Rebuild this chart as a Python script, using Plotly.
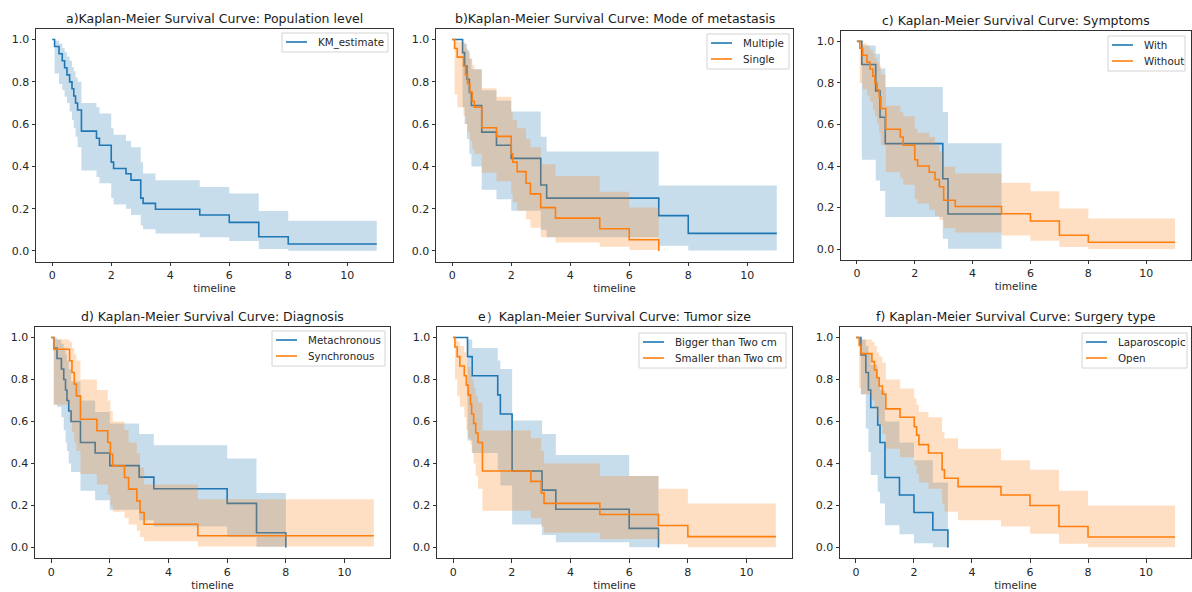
import plotly.graph_objects as go

# ---------------- data ----------------
XTICKS = [0, 2, 4, 6, 8, 10]
YTICKS = [0.0, 0.2, 0.4, 0.6, 0.8, 1.0]
YTICK_LABELS = ["0.0", "0.2", "0.4", "0.6", "0.8", "1.0"]

# a) Population level
A_T = [0, 0.08, 0.23, 0.34, 0.42, 0.5, 0.59, 0.67, 0.73, 0.79, 0.86, 0.99, 1.5, 1.6, 2.0, 2.08, 2.5, 2.67, 3.0, 3.08, 3.5, 5.0, 6.0, 7.0, 8.0, 11.0]
A_S = [1.0, 0.967, 0.933, 0.9, 0.867, 0.833, 0.8, 0.767, 0.733, 0.7, 0.667, 0.567, 0.533, 0.5, 0.42, 0.39, 0.365, 0.335, 0.25, 0.225, 0.197, 0.17, 0.135, 0.067, 0.033, 0.033]
A_LO = [1.0, 0.84, 0.79, 0.76, 0.73, 0.70, 0.66, 0.62, 0.58, 0.54, 0.49, 0.38, 0.35, 0.32, 0.25, 0.22, 0.20, 0.17, 0.12, 0.102, 0.083, 0.065, 0.047, 0.009, 0.001, 0.001]
A_HI = [1.0, 0.995, 0.98, 0.96, 0.94, 0.92, 0.90, 0.87, 0.85, 0.82, 0.80, 0.70, 0.68, 0.65, 0.58, 0.55, 0.52, 0.49, 0.42, 0.366, 0.335, 0.303, 0.272, 0.189, 0.143, 0.143]

# b) Mode of metastasis
B1_T = [0, 0.35, 0.42, 0.5, 0.58, 0.65, 1.0, 1.5, 2.0, 3.0, 3.2, 7.0, 8.0, 11.0]
B1_S = [1.0, 0.938, 0.875, 0.812, 0.75, 0.688, 0.562, 0.5, 0.438, 0.312, 0.25, 0.167, 0.083, 0.083]
B1_LO = [1.0, 0.68, 0.6, 0.53, 0.46, 0.4, 0.29, 0.245, 0.19, 0.1, 0.065, 0.025, 0.002, 0.002]
B1_HI = [1.0, 0.99, 0.98, 0.95, 0.91, 0.86, 0.76, 0.71, 0.66, 0.54, 0.47, 0.31, 0.31, 0.31]
B2_T = [0, 0.08, 0.17, 0.38, 0.45, 0.52, 0.6, 0.68, 0.75, 1.0, 1.5, 2.0, 2.05, 2.2, 2.5, 2.65, 3.0, 3.5, 5.0, 6.0, 7.0]
B2_S = [1.0, 0.958, 0.917, 0.875, 0.833, 0.792, 0.75, 0.708, 0.68, 0.583, 0.542, 0.46, 0.42, 0.375, 0.32, 0.27, 0.205, 0.155, 0.105, 0.053, 0.0]
B2_LO = [1.0, 0.74, 0.68, 0.64, 0.6, 0.56, 0.52, 0.48, 0.46, 0.37, 0.33, 0.27, 0.23, 0.19, 0.15, 0.11, 0.065, 0.04, 0.02, 0.005, 0.0]
B2_HI = [1.0, 1.0, 0.99, 0.98, 0.96, 0.94, 0.91, 0.88, 0.86, 0.77, 0.73, 0.66, 0.62, 0.58, 0.53, 0.49, 0.41, 0.355, 0.28, 0.205, 0.0]

# c) Symptoms
C1_T = [0, 0.17, 0.65, 0.8, 0.98, 2.97, 3.15, 5.0]
C1_S = [1.0, 0.889, 0.762, 0.635, 0.508, 0.339, 0.169, 0.169]
C1_LO = [1.0, 0.43, 0.33, 0.28, 0.155, 0.05, 0.002, 0.002]
C1_HI = [1.0, 0.98, 0.94, 0.87, 0.78, 0.66, 0.51, 0.51]
C2_T = [0, 0.1, 0.2, 0.35, 0.45, 0.55, 0.62, 0.7, 0.77, 0.83, 1.0, 1.5, 1.6, 2.0, 2.1, 2.5, 2.7, 2.85, 3.0, 3.4, 5.0, 6.0, 7.0, 8.0, 11.0]
C2_S = [1.0, 0.967, 0.933, 0.9, 0.867, 0.833, 0.8, 0.767, 0.733, 0.677, 0.577, 0.54, 0.5, 0.43, 0.4, 0.37, 0.335, 0.3, 0.235, 0.205, 0.17, 0.135, 0.067, 0.033, 0.033]
C2_LO = [1.0, 0.8, 0.77, 0.74, 0.71, 0.67, 0.64, 0.6, 0.56, 0.5, 0.37, 0.34, 0.31, 0.24, 0.22, 0.19, 0.16, 0.14, 0.1, 0.08, 0.065, 0.04, 0.01, 0.001, 0.001]
C2_HI = [1.0, 1.0, 0.99, 0.98, 0.96, 0.94, 0.92, 0.9, 0.88, 0.84, 0.69, 0.66, 0.64, 0.58, 0.56, 0.54, 0.5, 0.47, 0.396, 0.364, 0.319, 0.279, 0.195, 0.147, 0.147]

# d) Diagnosis
D1_T = [0, 0.09, 0.2, 0.35, 0.43, 0.49, 0.54, 0.6, 0.68, 1.0, 1.5, 2.0, 3.0, 3.5, 6.0, 7.0, 8.0]
D1_S = [1.0, 0.95, 0.9, 0.85, 0.8, 0.75, 0.7, 0.65, 0.6, 0.5, 0.45, 0.39, 0.335, 0.28, 0.21, 0.07, 0.0]
D1_LO = [1.0, 0.68, 0.67, 0.62, 0.56, 0.5, 0.46, 0.4, 0.36, 0.27, 0.225, 0.18, 0.13, 0.1, 0.05, 0.003, 0.0]
D1_HI = [1.0, 1.0, 0.99, 0.97, 0.95, 0.92, 0.89, 0.85, 0.79, 0.70, 0.645, 0.59, 0.54, 0.487, 0.424, 0.26, 0.0]
D2_T = [0, 0.09, 0.63, 0.71, 0.79, 0.86, 1.0, 1.56, 1.93, 2.02, 2.1, 2.5, 2.64, 2.92, 3.03, 3.17, 5.0, 11.0]
D2_S = [1.0, 0.944, 0.889, 0.833, 0.778, 0.722, 0.611, 0.556, 0.5, 0.444, 0.389, 0.333, 0.278, 0.222, 0.167, 0.111, 0.056, 0.056]
D2_LO = [1.0, 0.68, 0.6, 0.55, 0.5, 0.46, 0.35, 0.3, 0.25, 0.2, 0.17, 0.14, 0.11, 0.08, 0.05, 0.03, 0.005, 0.005]
D2_HI = [1.0, 0.99, 0.98, 0.95, 0.92, 0.89, 0.8, 0.75, 0.7, 0.65, 0.6, 0.56, 0.5, 0.45, 0.38, 0.3, 0.23, 0.23]

# e) Tumor size
E1_T = [0, 0.49, 0.65, 1.52, 1.61, 2.01, 3.03, 3.5, 6.0, 7.0]
E1_S = [1.0, 0.909, 0.818, 0.727, 0.636, 0.364, 0.273, 0.182, 0.091, 0.0]
E1_LO = [1.0, 0.51, 0.45, 0.37, 0.295, 0.11, 0.06, 0.025, 0.001, 0.0]
E1_HI = [1.0, 0.99, 0.95, 0.89, 0.85, 0.605, 0.54, 0.44, 0.34, 0.0]
E2_T = [0, 0.06, 0.14, 0.23, 0.38, 0.45, 0.51, 0.59, 0.63, 0.7, 0.77, 0.85, 1.0, 2.65, 3.0, 3.1, 5.0, 7.0, 8.0, 11.0]
E2_S = [1.0, 0.955, 0.909, 0.864, 0.818, 0.773, 0.727, 0.682, 0.636, 0.591, 0.545, 0.5, 0.364, 0.315, 0.26, 0.21, 0.157, 0.105, 0.052, 0.052]
E2_LO = [1.0, 0.8, 0.72, 0.67, 0.62, 0.56, 0.52, 0.49, 0.45, 0.4, 0.34, 0.28, 0.175, 0.14, 0.1, 0.07, 0.04, 0.015, 0.001, 0.001]
E2_HI = [1.0, 0.99, 0.98, 0.96, 0.93, 0.9, 0.86, 0.83, 0.8, 0.76, 0.72, 0.69, 0.557, 0.52, 0.46, 0.4, 0.34, 0.28, 0.21, 0.21]

# f) Surgery type
F1_T = [0, 0.17, 0.34, 0.43, 0.51, 0.75, 0.83, 1.0, 1.5, 2.0, 2.65, 3.17]
F1_S = [1.0, 0.917, 0.833, 0.75, 0.667, 0.583, 0.5, 0.333, 0.25, 0.167, 0.083, 0.0]
F1_LO = [1.0, 0.73, 0.567, 0.455, 0.345, 0.265, 0.21, 0.106, 0.063, 0.02, 0.001, 0.0]
F1_HI = [1.0, 0.99, 0.96, 0.92, 0.87, 0.81, 0.75, 0.6, 0.5, 0.415, 0.31, 0.0]
F2_T = [0, 0.11, 0.17, 0.55, 0.64, 0.72, 0.8, 0.91, 1.03, 1.52, 2.01, 2.09, 2.17, 2.5, 2.97, 3.05, 3.52, 5.0, 6.0, 7.0, 8.0, 11.0]
F2_S = [1.0, 0.962, 0.923, 0.885, 0.846, 0.808, 0.769, 0.731, 0.66, 0.62, 0.575, 0.535, 0.49, 0.45, 0.37, 0.33, 0.29, 0.25, 0.2, 0.1, 0.05, 0.05]
F2_LO = [1.0, 0.76, 0.73, 0.7, 0.66, 0.62, 0.58, 0.54, 0.47, 0.43, 0.39, 0.35, 0.31, 0.28, 0.21, 0.17, 0.13, 0.1, 0.065, 0.018, 0.001, 0.001]
F2_HI = [1.0, 1.0, 0.99, 0.98, 0.96, 0.93, 0.91, 0.88, 0.8, 0.757, 0.71, 0.68, 0.645, 0.62, 0.55, 0.52, 0.47, 0.415, 0.37, 0.27, 0.2, 0.2]

# ---------------- styling / layout ----------------
W, H = 1192, 592
LINE_COLORS = ["#1f77b4", "#ff7f0e"]
FILL_COLORS = ["rgba(31,119,180,0.25)", "rgba(255,127,14,0.25)"]
FONT = "DejaVu Sans"
TEXT_COLOR = "#262626"

# legend boxes: (left, right, top) in pixels
panels = [
    dict(title="a)Kaplan-Meier Survival Curve: Population level",
         groups=[("KM_estimate", A_T, A_S, A_LO, A_HI)],
         xpx=(36, 393), ypx=(29, 261.5), leg=(282, 388, 33)),
    dict(title="b)Kaplan-Meier Survival Curve: Mode of metastasis",
         groups=[("Multiple", B1_T, B1_S, B1_LO, B1_HI), ("Single", B2_T, B2_S, B2_LO, B2_HI)],
         xpx=(436, 793), ypx=(29, 261.5), leg=(707, 789, 34)),
    dict(title="c) Kaplan-Meier Survival Curve: Symptoms",
         groups=[("With", C1_T, C1_S, C1_LO, C1_HI), ("Without", C2_T, C2_S, C2_LO, C2_HI)],
         xpx=(841, 1191), ypx=(31, 259.5), leg=(1108, 1185, 36)),
    dict(title="d) Kaplan-Meier Survival Curve: Diagnosis",
         groups=[("Metachronous", D1_T, D1_S, D1_LO, D1_HI), ("Synchronous", D2_T, D2_S, D2_LO, D2_HI)],
         xpx=(35, 390), ypx=(327, 558), leg=(272, 385, 331)),
    dict(title="e）Kaplan-Meier Survival Curve: Tumor size",
         groups=[("Bigger than Two cm", E1_T, E1_S, E1_LO, E1_HI), ("Smaller than Two cm", E2_T, E2_S, E2_LO, E2_HI)],
         xpx=(437, 792), ypx=(327, 558), leg=(639, 786, 333)),
    dict(title="f) Kaplan-Meier Survival Curve: Surgery type",
         groups=[("Laparoscopic", F1_T, F1_S, F1_LO, F1_HI), ("Open", F2_T, F2_S, F2_LO, F2_HI)],
         xpx=(840, 1191), ypx=(327, 558), leg=(1082, 1187, 333)),
]


def px(x):
    return x / W


def py(y):
    return 1 - y / H


fig = go.Figure()
annotations = []
shapes = []
layout = dict(width=W, height=H, margin=dict(l=0, r=0, t=0, b=0, autoexpand=False),
              paper_bgcolor="white", plot_bgcolor="white", showlegend=False,
              font=dict(family=FONT, color=TEXT_COLOR))

axis_common = dict(showline=True, linecolor="#333333", linewidth=1, mirror=True,
                   ticks="outside", ticklen=3.5, tickwidth=0.8, tickcolor="#333333",
                   showgrid=False, zeroline=False, fixedrange=True, automargin=False,
                   tickfont=dict(family=FONT, size=11, color=TEXT_COLOR))

for i, p in enumerate(panels, start=1):
    sfx = "" if i == 1 else str(i)
    xa, ya = "x" + sfx, "y" + sfx
    for gi, (name, t, s, lo, hi) in enumerate(p["groups"]):
        fig.add_trace(go.Scatter(x=t, y=lo, mode="lines",
                                 line=dict(width=0, shape="hv", color=LINE_COLORS[gi]),
                                 showlegend=False, hoverinfo="skip", xaxis=xa, yaxis=ya))
        fig.add_trace(go.Scatter(x=t, y=hi, mode="lines", fill="tonexty",
                                 fillcolor=FILL_COLORS[gi],
                                 line=dict(width=0, shape="hv", color=LINE_COLORS[gi]),
                                 showlegend=False, hoverinfo="skip", xaxis=xa, yaxis=ya))
        fig.add_trace(go.Scatter(x=t, y=s, mode="lines", name=name,
                                 line=dict(width=1.6, shape="hv", color=LINE_COLORS[gi]),
                                 xaxis=xa, yaxis=ya))
    x0, x1 = p["xpx"]
    y0, y1 = p["ypx"]
    layout["xaxis" + sfx] = dict(domain=[px(x0), px(x1)], anchor=ya, range=[-0.55, 11.55],
                                 tickvals=XTICKS,
                                 title=dict(text="timeline", standoff=0,
                                            font=dict(family=FONT, size=10.5, color=TEXT_COLOR)),
                                 **axis_common)
    layout["yaxis" + sfx] = dict(domain=[py(y1), py(y0)], anchor=xa, range=[-0.05, 1.05],
                                 tickvals=YTICKS, ticktext=YTICK_LABELS, **axis_common)

    # title
    annotations.append(dict(text=p["title"], x=px((x0 + x1) / 2), y=py(y0),
                            xref="paper", yref="paper", xanchor="center", yanchor="bottom",
                            yshift=1, showarrow=False,
                            font=dict(family=FONT, size=12.5, color="#1a1a1a")))

    # legend (matplotlib-style box, short line handles)
    lx0, lx1, ltop = p["leg"]
    n = len(p["groups"])
    lbot = ltop + 16 * n + 3
    shapes.append(dict(type="rect", xref="paper", yref="paper",
                       x0=px(lx0), x1=px(lx1), y0=py(lbot), y1=py(ltop),
                       line=dict(color="#d4d4d4", width=1), fillcolor="rgba(255,255,255,0.8)",
                       layer="above"))
    for gi, g in enumerate(p["groups"]):
        cy = ltop + 9 + 16 * gi
        shapes.append(dict(type="line", xref="paper", yref="paper",
                           x0=px(lx0 + 4), x1=px(lx0 + 25), y0=py(cy), y1=py(cy),
                           line=dict(color=LINE_COLORS[gi], width=1.6), layer="above"))
        annotations.append(dict(text=g[0], x=px(lx0 + 34), y=py(cy), xref="paper", yref="paper",
                                xanchor="left", yanchor="middle", showarrow=False,
                                font=dict(family=FONT, size=10.3, color=TEXT_COLOR)))

layout["annotations"] = annotations
layout["shapes"] = shapes
fig.update_layout(**layout)
fig.write_html("out.html", config={"displayModeBar": False},
               post_script="document.body.style.margin='0px';")
